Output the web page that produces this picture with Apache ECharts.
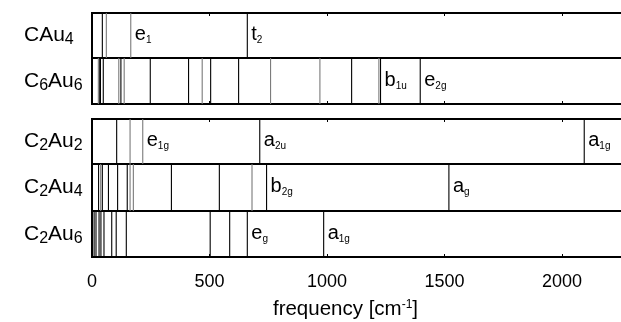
<!DOCTYPE html>
<html>
<head>
<meta charset="utf-8">
<script src="https://cdn.jsdelivr.net/npm/echarts@6/dist/echarts.min.js"></script>
<style>
  html, body { margin: 0; padding: 0; background: #fff; }
  #main { width: 621px; height: 322px; }
</style>
</head>
<body>
<div id="main"></div>
<script>
// molecules, top to bottom
var molecules = ['CAu4', 'C6Au6', 'C2Au2', 'C2Au4', 'C2Au6'];
var moleculeLabels = ['{n|CAu}{s|4}', '{n|C}{s|6}{n|Au}{s|6}', '{n|C}{s|2}{n|Au}{s|2}', '{n|C}{s|2}{n|Au}{s|4}', '{n|C}{s|2}{n|Au}{s|6}'];

// vibrational frequencies [cm-1]
var freqCAu4 = [44, 61, 165, 661];
var freqC6Au6 = [27, 33, 36, 48, 114, 123, 137, 248, 411, 469, 505, 624, 760, 970, 1105, 1221, 1228, 1397];
var freqC2Au2 = [105, 162, 216, 714, 2095];
var freqC2Au4 = [28, 37, 44, 70, 109, 150, 162, 176, 338, 542, 681, 743, 1519];
var freqC2Au6 = [9, 17, 30, 38, 51, 84, 103, 146, 503, 586, 661, 986];

// modes drawn in grey
var faintCAu4 = [61, 165];
var faintC6Au6 = [27, 114, 137, 469, 760, 970, 1221];
var faintC2Au2 = [162, 216];
var faintC2Au4 = [37, 162, 176, 681];
var faintC2Au6 = [];

// labelled modes
var labFreqCAu4 = [165, 661];
var labTextCAu4 = ['e|1', 't|2'];
var labFreqC6Au6 = [1228, 1397];
var labTextC6Au6 = ['b|1u', 'e|2g'];
var labFreqC2Au2 = [216, 714, 2095];
var labTextC2Au2 = ['e|1g', 'a|2u', 'a|1g'];
var labFreqC2Au4 = [743, 1519];
var labTextC2Au4 = ['b|2g', 'a|g'];
var labFreqC2Au6 = [661, 986];
var labTextC2Au6 = ['e|g', 'a|1g'];

var xTicks = [0, 500, 1000, 1500, 2000];

var allFreq = [freqCAu4, freqC6Au6, freqC2Au2, freqC2Au4, freqC2Au6];
var allFaint = [faintCAu4, faintC6Au6, faintC2Au2, faintC2Au4, faintC2Au6];
var allLabFreq = [labFreqCAu4, labFreqC6Au6, labFreqC2Au2, labFreqC2Au4, labFreqC2Au6];
var allLabText = [labTextCAu4, labTextC6Au6, labTextC2Au2, labTextC2Au4, labTextC2Au6];

var FONT = 'Liberation Sans, Arial, sans-serif';
var gridTops = [13, 58, 119, 164, 211];
var gridHeights = [45, 46, 45, 47, 46];

var myChart = echarts.init(document.getElementById('main'), null, { renderer: 'canvas' });

var grids = [], xAxes = [], yAxes = [], series = [];
for (var i = 0; i < molecules.length; i++) {
  grids.push({
    left: 92, width: 531, top: gridTops[i], height: gridHeights[i],
    outerBoundsMode: 'none', containLabel: false,
    show: true, borderColor: '#000', borderWidth: 2, backgroundColor: 'transparent'
  });
  var isTop = (i === 0 || i === 2);
  var isBottom = (i === 1 || i === 4);
  xAxes.push({
    gridIndex: i, type: 'value', min: 0, max: 2260, interval: 500,
    position: isTop ? 'top' : 'bottom',
    axisLine: { show: false },
    axisTick: { show: isTop || isBottom, inside: true, length: 3, lineStyle: { color: '#000', width: 1 } },
    splitLine: { show: false },
    axisLabel: {
      show: i === 4, color: '#000', fontFamily: FONT, fontSize: 18, margin: 16,
      formatter: function (v) { return xTicks.indexOf(v) >= 0 ? String(v) : ''; }
    },
    name: i === 4 ? 'frequency [cm{sup|-1}]' : '',
    nameLocation: 'middle', nameGap: 42, nameMoveOverlap: false,
    nameTextStyle: {
      color: '#000', fontFamily: FONT, fontSize: 20.5, padding: [0, 24, 0, 0],
      rich: { sup: { fontSize: 12, fontFamily: FONT, color: '#000', verticalAlign: 'top', lineHeight: 14 } }
    }
  });
  yAxes.push({
    gridIndex: i, type: 'category', data: [molecules[i]],
    axisLine: { show: false }, axisTick: { show: false }, splitLine: { show: false },
    axisLabel: {
      align: 'left', margin: 68, color: '#000',
      formatter: (function (k) { return function () { return moleculeLabels[k]; }; })(i),
      rich: {
        n: { fontSize: 21, fontFamily: FONT, color: '#000' },
        s: { fontSize: 16, fontFamily: FONT, color: '#000', padding: [9, 0, 0, 0] }
      }
    }
  });

  // mode lines
  series.push({
    type: 'custom', xAxisIndex: i, yAxisIndex: i, silent: true,
    data: allFreq[i].map(function (f) { return [f, 0]; }),
    renderItem: (function (k) {
      return function (params, api) {
        var f = api.value(0);
        var x = api.coord([f, 0])[0];
        var cs = params.coordSys;
        var grey = allFaint[k].indexOf(f) >= 0;
        return {
          type: 'line',
          shape: { x1: x, y1: cs.y, x2: x, y2: cs.y + cs.height },
          style: { stroke: grey ? '#7a7a7a' : '#000', lineWidth: 1.1 }
        };
      };
    })(i)
  });

  // mode labels
  series.push({
    type: 'custom', xAxisIndex: i, yAxisIndex: i, silent: true,
    data: allLabFreq[i].map(function (f) { return [f, 0]; }),
    renderItem: (function (k) {
      return function (params, api) {
        var x = api.coord([api.value(0), 0])[0];
        var cs = params.coordSys;
        var parts = allLabText[k][params.dataIndex].split('|');
        return {
          type: 'text',
          x: x + 4, y: cs.y + cs.height / 2 - 1,
          style: {
            text: '{m|' + parts[0] + '}{s|' + parts[1] + '}',
            align: 'left', verticalAlign: 'middle',
            rich: {
              m: { fontSize: 20, fontFamily: FONT, fill: '#000' },
              s: { fontSize: 10, fontFamily: FONT, fill: '#000', padding: [12, 0, 0, 0] }
            }
          }
        };
      };
    })(i)
  });
}

myChart.setOption({
  animation: false,
  backgroundColor: '#fff',
  grid: grids,
  xAxis: xAxes,
  yAxis: yAxes,
  series: series
});
</script>
</body>
</html>
